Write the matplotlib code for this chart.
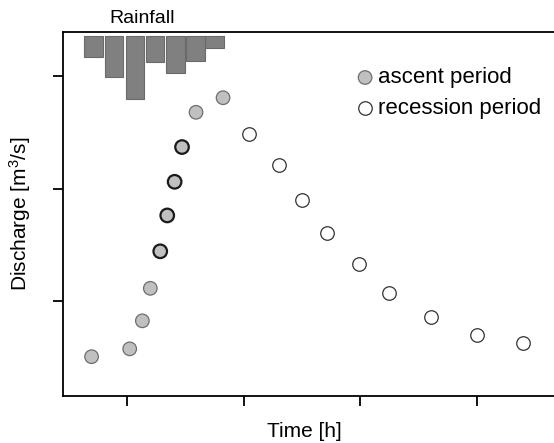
import numpy as np
import matplotlib.pyplot as plt

plt.rcParams['font.family'] = ['Liberation Sans', 'DejaVu Sans']
plt.rcParams['mathtext.default'] = 'regular'

# data
asc_t = [4.18, 6.14, 6.79, 7.20, 7.71, 8.07, 8.45, 8.83, 9.55, 10.94]
asc_q = [0.50, 0.57, 0.82, 1.11, 1.44, 1.76, 2.06, 2.37, 2.68, 2.81]
dark_edge = [False, False, False, False, True, True, True, True, False, False]

rec_t = [12.29, 13.81, 15.00, 16.30, 17.93, 19.47, 21.61, 23.98, 26.36]
rec_q = [2.49, 2.21, 1.90, 1.60, 1.33, 1.07, 0.85, 0.69, 0.62]

rain_t = [4.28, 5.35, 6.40, 7.45, 8.50, 9.52, 10.50]
rain_mm = [5.2, 10.2, 15.7, 6.5, 9.2, 6.2, 2.9]

x_ticks = [6, 12, 18, 24]
y_ticks = [1, 2, 3]

fig = plt.figure(figsize=(5.54, 4.43), dpi=100)
ax = fig.add_axes([0.1137, 0.106, 0.897, 0.8217])

# rainfall hanging from the top
ax2 = ax.twinx()
ax2.bar(rain_t, rain_mm, width=0.94, color='#808080', edgecolor='#6a6a6a', linewidth=0.8)
ax2.set_ylim(90, -1)
ax2.set_yticks([])
for s in ax2.spines.values():
    s.set_visible(False)

# discharge points
edges = ['#1a1a1a' if d else '#6e6e6e' for d in dark_edge]
lws = [1.6 if d else 0.9 for d in dark_edge]
ax.scatter(asc_t, asc_q, s=95, c='#c0c0c0', edgecolors=edges, linewidths=lws,
           zorder=3, label='ascent period')
ax.scatter(rec_t, rec_q, s=95, c='white', edgecolors='#333333', linewidths=0.9,
           zorder=3, label='recession period')

ax.set_xlim(2.71, 28.26)
ax.set_ylim(0.149, 3.396)
ax.set_xticks(x_ticks)
ax.set_yticks(y_ticks)
ax.set_xticklabels([])
ax.set_yticklabels([])
ax.tick_params(direction='out', length=7, width=1.3)
for s in ax.spines.values():
    s.set_linewidth(1.3)

ax.set_xlabel('Time [h]', fontsize=15, labelpad=6)
ax.xaxis.set_label_coords(0.486, -0.07)
ax.set_ylabel('Discharge [m$^3$/s]', fontsize=15, labelpad=11)
ax.text(0.159, 1.038, 'Rainfall', transform=ax.transAxes, ha='center', va='center', fontsize=14)

ax.legend(loc='upper left', bbox_to_anchor=(0.59, 0.903), frameon=False, fontsize=16,
          handlelength=0.8, handletextpad=0.2, labelspacing=0.42, borderpad=0,
          borderaxespad=0, markerscale=1.0)

fig.savefig('out.png', dpi=100)
